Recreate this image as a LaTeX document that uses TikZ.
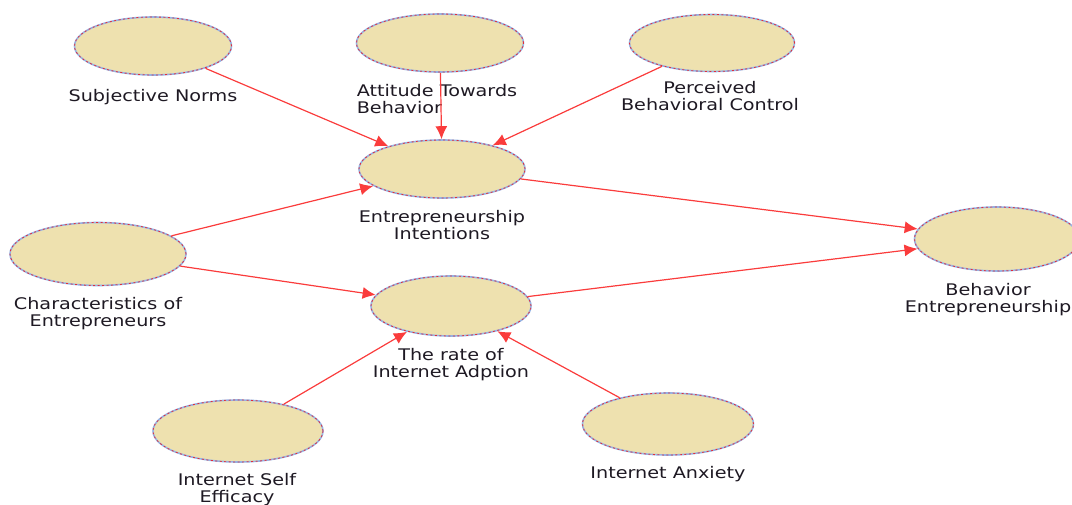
\documentclass[tikz,border=0pt]{standalone}
\usepackage{fontspec}
\setmainfont[FakeStretch=1.2]{DejaVu Sans}
\usetikzlibrary{shapes.geometric,arrows.meta}
\definecolor{ellfill}{RGB}{238,225,175}
\definecolor{ellrim}{RGB}{150,180,228}
\definecolor{rimdash}{RGB}{225,45,60}
\definecolor{linkred}{RGB}{250,60,60}
\definecolor{txt}{RGB}{30,25,35}
\begin{document}
\begin{tikzpicture}[x=1pt,y=1pt,
  construct/.style={ellipse, inner sep=0pt, fill=ellfill, draw=ellrim, line width=1.6pt,
    postaction={draw=rimdash, line width=0.8pt, dash pattern=on 2pt off 2.5pt}},
  caption/.style={anchor=base, align=center, inner sep=0pt, text=txt,
    font=\fontsize{16}{17}\selectfont},
  link/.style={draw=linkred, line width=1.2pt, -{Latex[length=13pt,width=12pt]}}]
\useasboundingbox (0,0) rectangle (1072,-504);
\clip (0,0) rectangle (1072,-504);

% constructs
\node[construct, minimum width=157pt, minimum height=58pt] (sn)  at (153,-46)  {};
\node[construct, minimum width=167pt, minimum height=58pt] (atb) at (440,-43)  {};
\node[construct, minimum width=165pt, minimum height=57pt] (pbc) at (712,-43)  {};
\node[construct, minimum width=166pt, minimum height=58pt] (ei)  at (442,-169) {};
\node[construct, minimum width=176pt, minimum height=63pt] (ce)  at (98,-254)  {};
\node[construct, minimum width=165pt, minimum height=64pt] (be)  at (997,-239) {};
\node[construct, minimum width=160pt, minimum height=60pt] (ria) at (451,-306) {};
\node[construct, minimum width=170pt, minimum height=62pt] (ise) at (238,-431) {};
\node[construct, minimum width=171pt, minimum height=62pt] (ia)  at (668,-424) {};

% captions (two-line captions sit on the baseline of their last line)
\node[caption] (snl)  at (153,-101) {Subjective Norms};
\node[caption, align=left] (atbl) at (437,-113) {Attitude Towards\\Behavior};
\node[caption] (pbcl) at (710,-110) {Perceived\\Behavioral Control};
\node[caption] (eil)  at (442,-239) {Entrepreneurship\\Intentions};
\node[caption] (cel)  at (98,-326)  {Characteristics of\\Entrepreneurs};
\node[caption] (bel)  at (988,-312) {Behavior\\Entrepreneurship};
\node[caption] (rial) at (451,-377) {The rate of\\Internet Adption};
\node[caption] (isel) at (237,-502) {Internet Self\\Efficacy};
\node[caption] (ial)  at (668,-478) {Internet Anxiety};

% paths
\draw[link] (sn)  -- (ei);
\draw[link] (atb) -- (ei);
\draw[link] (pbc) -- (ei);
\draw[link] (ce)  -- (ei);
\draw[link] (ce)  -- (ria);
\draw[link] (ei)  -- (be);
\draw[link] (ria) -- (be);
\draw[link] (ise) -- (ria);
\draw[link] (ia)  -- (ria);
\end{tikzpicture}
\end{document}
